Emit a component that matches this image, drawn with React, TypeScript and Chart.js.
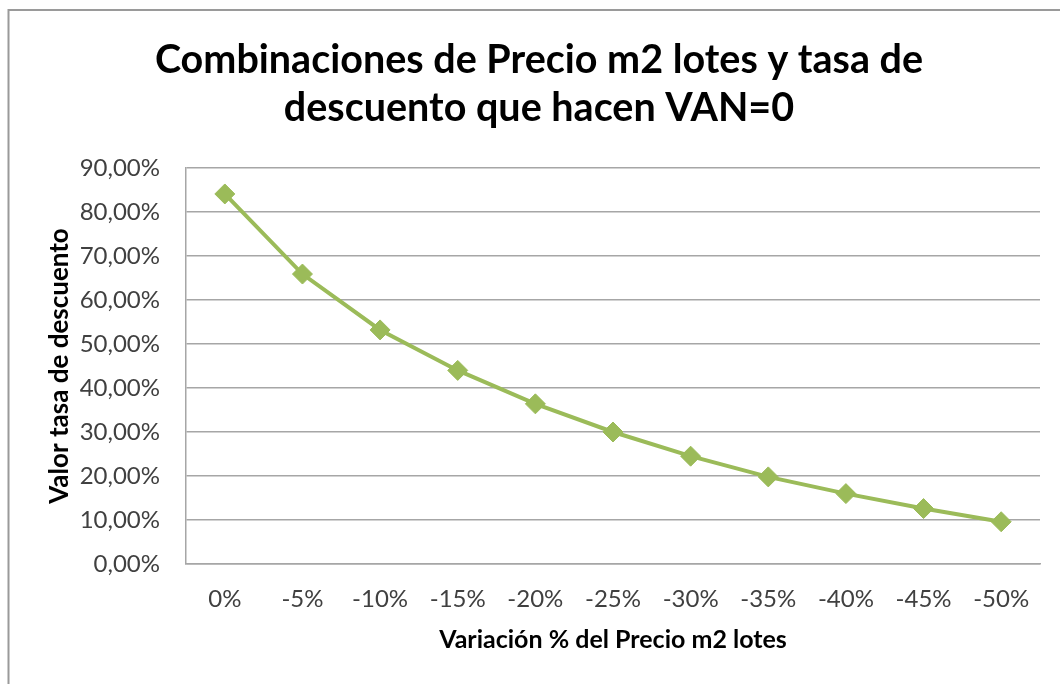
import React, { useEffect, useRef } from "react";
import { Chart, registerables } from "chart.js";

Chart.register(...registerables);

const titleLines = ["Combinaciones de Precio m2 lotes y tasa de", "descuento que hacen VAN=0"];
const categories = ["0%", "-5%", "-10%", "-15%", "-20%", "-25%", "-30%", "-35%", "-40%", "-45%", "-50%"];
const discountRate = [84.1, 65.9, 53.2, 44.0, 36.4, 30.0, 24.5, 19.8, 16.0, 12.6, 9.6];
const xAxisTitle = "Variación % del Precio m2 lotes";
const yAxisTitle = "Valor tasa de descuento";
const yMin = 0;
const yMax = 90;
const yStep = 10;

const FONT = "Lato";
const GREEN = "#9BBB59";
const GRID = "#a6a6a6";

const frameBorder = {
  id: "frameBorder",
  beforeDraw(chart: any) {
    const ctx = chart.ctx;
    ctx.save();
    ctx.strokeStyle = "#9a9a9a";
    ctx.lineWidth = 2;
    ctx.beginPath();
    ctx.moveTo(8.5, chart.height);
    ctx.lineTo(8.5, 10);
    ctx.lineTo(chart.width, 10);
    ctx.stroke();
    ctx.restore();
  },
};

export default function App() {
  const ref = useRef<HTMLCanvasElement | null>(null);

  useEffect(() => {
    if (!ref.current) return;
    const chart = new Chart(ref.current, {
      type: "line",
      data: {
        labels: categories,
        datasets: [
          {
            data: discountRate,
            yAxisID: "y",
            borderColor: GREEN,
            backgroundColor: GREEN,
            borderWidth: 4,
            pointStyle: "rectRot",
            pointRadius: 10,
            pointHoverRadius: 10,
            pointBackgroundColor: GREEN,
            pointBorderColor: GREEN,
            pointBorderWidth: 1,
            tension: 0,
          },
        ],
      },
      options: {
        responsive: false,
        animation: false,
        layout: { padding: { left: 18, right: 0, top: 0, bottom: 0 } },
        plugins: {
          legend: { display: false },
          tooltip: { enabled: false },
          title: {
            display: true,
            text: titleLines,
            color: "#000000",
            font: { family: FONT, size: 39.5, weight: "bold", lineHeight: "48px" },
            padding: { top: 36, bottom: 36 },
          },
        },
        scales: {
          x: {
            type: "category",
            offset: true,
            grid: { display: false, drawTicks: false },
            border: { display: true, color: GRID, width: 1.5 },
            ticks: {
              color: "#404040",
              font: { family: FONT, size: 24 },
              padding: 21,
              maxRotation: 0,
              autoSkip: false,
            },
            title: {
              display: true,
              text: xAxisTitle,
              color: "#000000",
              font: { family: FONT, size: 25, weight: "bold" },
              padding: { top: 0, bottom: 29 },
            },
            afterFit(scale: any) {
              scale.height = 120;
            },
          },
          y: {
            position: "left",
            min: yMin,
            max: yMax,
            grid: { display: true, color: GRID, lineWidth: 1.5, drawTicks: false },
            border: { display: true, color: GRID, width: 1.5 },
            ticks: {
              stepSize: yStep,
              color: "#404040",
              font: { family: FONT, size: 24 },
              padding: 26,
              callback: (v: any) => `${Number(v).toFixed(2).replace(".", ",")}%`,
            },
            title: {
              display: true,
              text: yAxisTitle,
              color: "#000000",
              font: { family: FONT, size: 26, weight: "bold" },
              padding: { top: 26, bottom: 0 },
            },
            afterFit(scale: any) {
              scale.width = 168;
            },
          },
          yRight: {
            position: "right",
            display: true,
            min: yMin,
            max: yMax,
            grid: { display: false, drawTicks: false },
            border: { display: false },
            ticks: { display: false },
            afterFit(scale: any) {
              scale.width = 20;
            },
          },
        },
      },
      plugins: [frameBorder],
    });
    return () => chart.destroy();
  }, []);

  return (
    <div style={{ position: "absolute", left: 0, top: 0, width: 1060, height: 684, background: "#ffffff" }}>
      <canvas ref={ref} width={1060} height={684} style={{ width: 1060, height: 684, display: "block" }} />
    </div>
  );
}
